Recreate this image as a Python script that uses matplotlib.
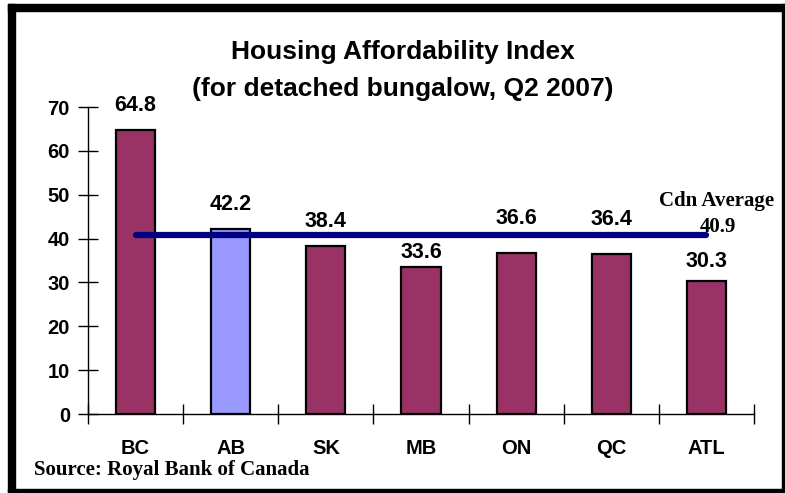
import matplotlib
matplotlib.use("Agg")
import matplotlib.pyplot as plt
from matplotlib.patches import Rectangle
from matplotlib.transforms import offset_copy

regions = ["BC", "AB", "SK", "MB", "ON", "QC", "ATL"]
index_values = [64.8, 42.2, 38.4, 33.6, 36.6, 36.4, 30.3]
cdn_average = 40.9
y_ticks = [0, 10, 20, 30, 40, 50, 60, 70]

# label lift above each bar (points), styling only
label_lift_pt = [17.5, 17.5, 17.5, 10, 25, 25, 14]

W, H = 785, 493
fig = plt.figure(figsize=(W / 100, H / 100), dpi=100)
fig.patch.set_facecolor("white")

def fx(px):
    return px / W

def fy(py):
    return 1 - py / H

# Outer frame (thicker left/top, thinner right/bottom)
frame_color = "black"
fig.patches.append(Rectangle((fx(8), fy(11)), fx(785) - fx(8), fy(4) - fy(11), transform=fig.transFigure, color=frame_color, zorder=0))
fig.patches.append(Rectangle((fx(8), fy(492)), fx(15) - fx(8), fy(4) - fy(492), transform=fig.transFigure, color=frame_color, zorder=0))
fig.patches.append(Rectangle((fx(782), fy(492)), fx(785) - fx(782), fy(4) - fy(492), transform=fig.transFigure, color=frame_color, zorder=0))
fig.patches.append(Rectangle((fx(8), fy(492)), fx(785) - fx(8), fy(489) - fy(492), transform=fig.transFigure, color=frame_color, zorder=0))

ax = fig.add_axes([fx(88), fy(414), fx(754) - fx(88), fy(107) - fy(414)])
ax.set_facecolor("none")

colors = ["#993366", "#9999FF", "#993366", "#993366", "#993366", "#993366", "#993366"]
x = list(range(len(regions)))
ax.bar(x, index_values, width=0.41, color=colors, edgecolor="black", linewidth=1.6, zorder=2)

ax.set_xlim(-0.5, len(regions) - 0.5)
ax.set_ylim(0, 70)

for xi, v, lift in zip(x, index_values, label_lift_pt):
    tr = offset_copy(ax.transData, fig=fig, x=0, y=lift, units="points")
    ax.text(xi, v, f"{v:.1f}", ha="center", va="center", fontsize=15.5,
            fontweight="bold", family="Liberation Sans", zorder=4, transform=tr)

ax.plot([0, len(regions) - 1], [cdn_average, cdn_average], color="#000080",
        linewidth=4.5, solid_capstyle="round", zorder=3)

fig.text(fx(717), fy(206), "Cdn Average", ha="center", va="baseline", fontsize=15,
         fontweight="bold", family="Liberation Serif")
fig.text(fx(718), fy(232), f"{cdn_average:.1f}", ha="center", va="baseline", fontsize=15,
         fontweight="bold", family="Liberation Serif")

ax.set_yticks(y_ticks)
ax.set_yticklabels([str(t) for t in y_ticks], fontsize=14.5, fontweight="bold", family="Liberation Sans")
ax.set_xticks([i - 0.5 for i in range(len(regions) + 1)])
ax.set_xticklabels([])
ax.set_xticks(x, minor=True)
ax.set_xticklabels(regions, minor=True, fontsize=14.5, fontweight="bold", family="Liberation Sans")
ax.tick_params(axis="x", which="minor", length=0, pad=18)
ax.tick_params(axis="x", which="major", direction="inout", length=15, width=1)
ax.tick_params(axis="y", direction="inout", length=14, width=1, pad=6)

for s in ["top", "right"]:
    ax.spines[s].set_visible(False)
for s in ["left", "bottom"]:
    ax.spines[s].set_linewidth(1)
    ax.spines[s].set_color("black")

fig.text(fx(403), fy(59), "Housing Affordability Index", ha="center", va="baseline",
         fontsize=19, fontweight="bold", family="Liberation Sans")
fig.text(fx(403), fy(96), "(for detached bungalow, Q2 2007)", ha="center", va="baseline",
         fontsize=19, fontweight="bold", family="Liberation Sans")

fig.text(fx(34), fy(475), "Source: Royal Bank of Canada", ha="left", va="baseline",
         fontsize=15, fontweight="bold", family="Liberation Serif")

fig.savefig("out.png", dpi=100)
